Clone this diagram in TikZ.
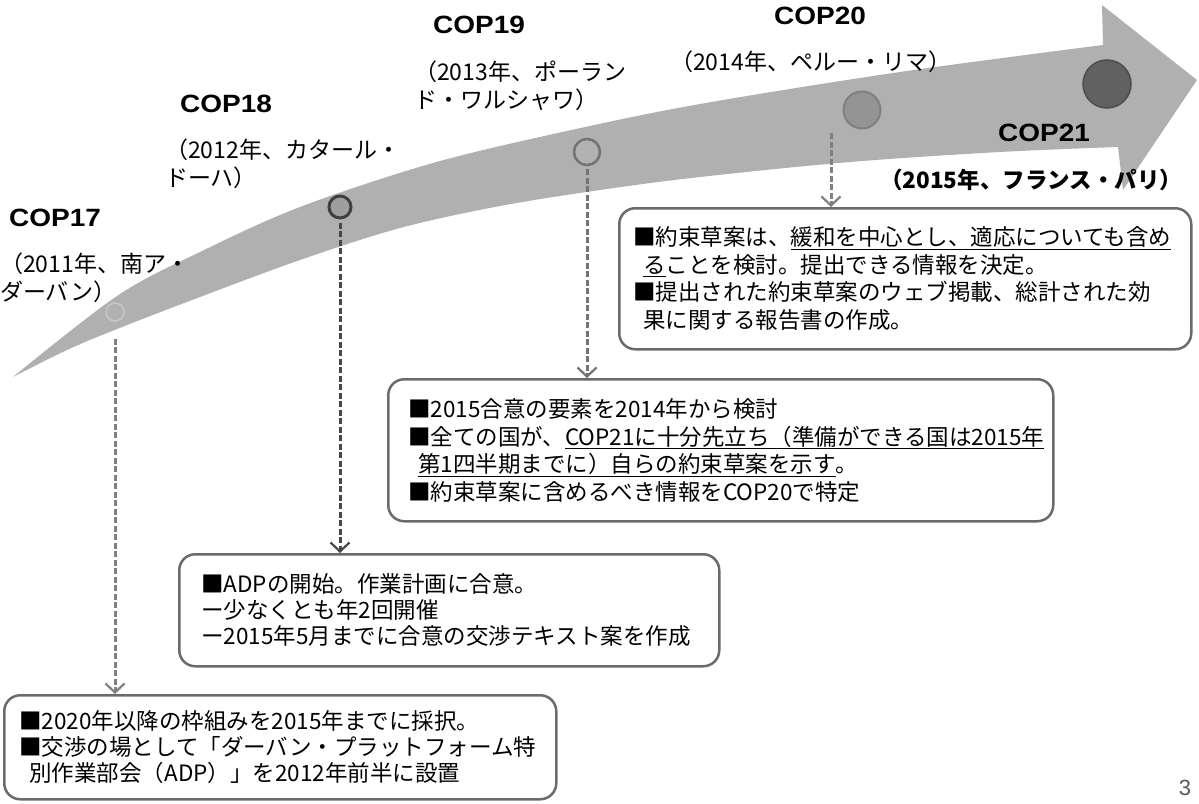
\documentclass[tikz,border=0pt]{standalone}
\usepackage{fontspec}
\setmainfont{Noto Sans CJK JP}
\newfontfamily\copfont[FakeStretch=1.12]{Liberation Sans}
\newfontfamily\pgfont{Liberation Sans}
\usetikzlibrary{arrows.meta}
\begin{document}
\begin{tikzpicture}[x=1pt,y=-1pt,
  band/.style={fill=black!31},
  copl/.style={anchor=west, inner sep=0pt, font=\copfont\bfseries\fontsize{25}{28}\selectfont},
  placel/.style={anchor=west, inner sep=0pt, align=left, font=\fontsize{23}{28}\selectfont},
  infobox/.style={draw=black!58, line width=2.5pt, rounded corners=16pt, fill=white,
    anchor=north west, align=left, inner ysep=0pt, font=\fontsize{22.5}{27.5}\selectfont},
  conn/.style={draw=black!50, line width=3pt, dash pattern=on 6pt off 2.5pt,
    -{Straight Barb[length=9pt,width=19pt,line width=2.2pt]}},
  dot/.style={circle, inner sep=0pt}
]
\useasboundingbox[fill=white] (0,0) rectangle (1199,803);

% timeline band with arrow head
\fill[band] plot[smooth,tension=0.55] coordinates {(13,377) (117,296) (200,252) (300,207) (433,163) (567,131) (700,104) (900,72) (1103,45)}
  -- (1102,5) -- (1197,80) -- (1123,190) -- (1118,147)
  -- plot[smooth,tension=0.55] coordinates {(1118,147) (1000,152) (850,162) (700,177) (600,190) (500,206) (400,228) (300,260) (200,297) (117,329) (67,350) (13,377)} -- cycle;

% milestone circles
\node[dot, minimum size=18pt, draw=black!22, line width=1.5pt, fill=black!30] (c17) at (115,312) {};
\node[dot, minimum size=22pt, draw=black!75, line width=3pt, fill=black!38] (c18) at (340,207) {};
\node[dot, minimum size=26pt, draw=black!55, line width=2.5pt, fill=black!30] (c19) at (587,152) {};
\node[dot, minimum size=37pt, draw=black!50, line width=2pt, fill=black!42] (c20) at (862,110) {};
\node[dot, minimum size=48pt, draw=black!70, line width=1.5pt, fill=black!62] (c21) at (1107,84) {};

% labels
\node[copl] (l17) at (9,218) {COP17};
\node[placel] (p17) at (0,278) {（2011年、南ア・\\ダーバン）};
\node[copl] (l18) at (180,104) {COP18};
\node[placel] (p18) at (165,164) {（2012年、カタール・\\ドーハ）};
\node[copl] (l19) at (433,25) {COP19};
\node[placel] (p19) at (414,86) {（2013年、ポーラン\\ド・ワルシャワ）};
\node[copl] (l20) at (774,16) {COP20};
\node[placel] (p20) at (670,62) {（2014年、ペルー・リマ）};
\node[copl] (l21) at (998,133) {COP21};
\node[placel, font=\bfseries\fontsize{22.5}{28}\selectfont] (p21) at (880,180) {（2015年、フランス・パリ）};

% info boxes
\node[infobox, text width=544pt, inner xsep=14pt, minimum height=141pt] (b1) at (618,207)
  {■約束草案は、\underline{緩和を中心とし、適応についても含め}\\
   \hspace*{.45em}\underline{る}ことを検討。提出できる情報を決定。\\
   ■提出された約束草案のウェブ掲載、総計された効\\
   \hspace*{.45em}果に関する報告書の作成。};
\node[infobox, text width=625pt, inner xsep=20pt, minimum height=142pt] (b2) at (387,378)
  {■2015合意の要素を2014年から検討\\
   ■全ての国が、\underline{COP21に十分先立ち（準備ができる国は2015年}\\
   \hspace*{.45em}\underline{第1四半期までに）自らの約束草案を示す}。\\
   ■約束草案に含めるべき情報をCOP20で特定};
\node[infobox, text width=496pt, inner xsep=22pt, minimum height=112pt, font=\fontsize{22.5}{26}\selectfont] (b3) at (178,553)
  {■ADPの開始。作業計画に合意。\\
   ー少なくとも年2回開催\\
   ー2015年5月までに合意の交渉テキスト案を作成};
\node[infobox, text width=522pt, inner xsep=15pt, minimum height=104pt, font=\fontsize{22.5}{26}\selectfont] (b4) at (3,694)
  {■2020年以降の枠組みを2015年までに採択。\\
   ■交渉の場として「ダーバン・プラットフォーム特\\
   \hspace*{.45em}別作業部会（ADP）」を2012年前半に設置};

% connectors
\coordinate (a20) at (831,133);
\draw[conn] ([yshift=-17pt]c17.south) -- (c17.south |- b4.north);
\draw[conn, draw=black!72] ([yshift=-3pt]c18.south) -- (c18.south |- b3.north);
\draw[conn, draw=black!55] ([yshift=-3pt]c19.south) -- (c19.south |- b2.north);
\draw[conn] (a20) -- (a20 |- b1.north);

% page number
\node[inner sep=0pt, text=black!65, font=\pgfont\fontsize{22}{24}\selectfont] (pg) at (1185,788) {3};
\end{tikzpicture}
\end{document}
